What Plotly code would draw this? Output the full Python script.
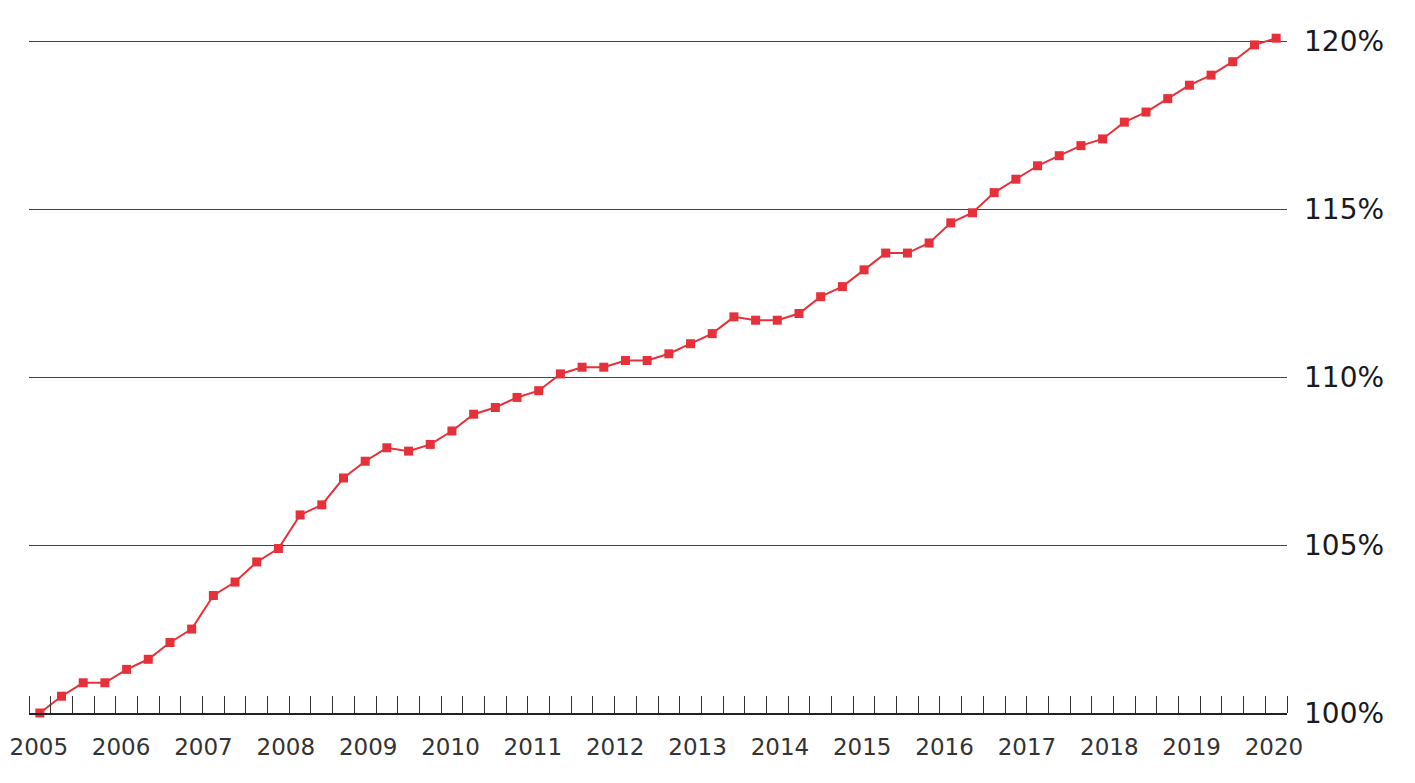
import numpy as np
import plotly.graph_objects as go

# Quarterly index values (%), 2005 -> 2020
values = [
    100.0, 100.5, 100.9, 100.9, 101.3, 101.6, 102.1, 102.5, 103.5, 103.9,
    104.5, 104.9, 105.9, 106.2, 107.0, 107.5, 107.9, 107.8, 108.0, 108.4,
    108.9, 109.1, 109.4, 109.6, 110.1, 110.3, 110.3, 110.5, 110.5, 110.7,
    111.0, 111.3, 111.8, 111.7, 111.7, 111.9, 112.4, 112.7, 113.2, 113.7,
    113.7, 114.0, 114.6, 114.9, 115.5, 115.9, 116.3, 116.6, 116.9, 117.1,
    117.6, 117.9, 118.3, 118.7, 119.0, 119.4, 119.9, 120.1,
]
years = [str(y) for y in range(2005, 2021)]
y_ticks = [100, 105, 110, 115, 120]
y_labels = ["100%", "105%", "110%", "115%", "120%"]

x = list(range(len(values)))
year_pos = np.linspace(-0.05, 56.9, len(years))

RED = "#e6303a"

fig = go.Figure()
fig.add_trace(go.Scatter(
    x=x, y=values, mode="lines+markers",
    line=dict(color=RED, width=2),
    marker=dict(symbol="square", size=9, color=RED),
    cliponaxis=False,
    hoverinfo="skip",
))

fig.update_layout(
    width=1415, height=783,
    margin=dict(l=21, r=136, t=2, b=78),
    paper_bgcolor="white", plot_bgcolor="white",
    showlegend=False,
    font=dict(family="DejaVu Sans", color="#222"),
)
fig.update_xaxes(
    range=[-0.5, len(values) - 0.5], automargin=False,
    tickmode="array", tickvals=year_pos, ticktext=years,
    ticks="", showgrid=False, zeroline=False,
    showline=True, linecolor="#222", linewidth=1.5,
    tickfont=dict(size=23, color="#333"),
    ticklabelstandoff=13, ticklabeloverflow="allow",
    minor=dict(ticks="inside", ticklen=17, tickwidth=1, tickcolor="#333",
               tickmode="linear", tick0=-0.5, dtick=1, showgrid=False),
)
fig.update_yaxes(
    range=[100, 120.94], side="right", automargin=False,
    tickmode="array", tickvals=y_ticks, ticktext=y_labels,
    showgrid=True, gridcolor="#444", gridwidth=1,
    zeroline=False, showline=False, ticks="",
    tickfont=dict(size=28, color="#1a1a1a"),
    ticklabelstandoff=16, ticklabeloverflow="allow",
)

fig.write_html("out.html")
